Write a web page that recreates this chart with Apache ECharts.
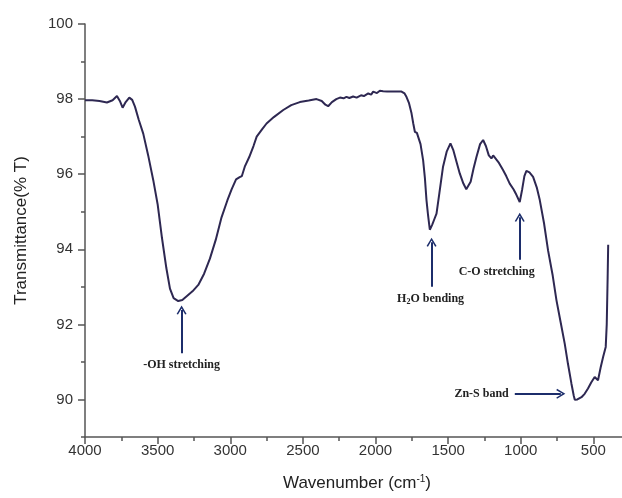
<!DOCTYPE html>
<html>
<head>
<meta charset="utf-8">
<script src="https://cdn.jsdelivr.net/npm/echarts@6/dist/echarts.min.js"></script>
<style>
  html, body { margin: 0; padding: 0; background: #fff; }
  #chart { width: 622px; height: 498px; }
</style>
</head>
<body>
<div id="chart"></div>
<script>
// wavenumber (cm-1) and transmittance (%T)
const wavenumber = [
  4000, 3950, 3900, 3849, 3810, 3780, 3760, 3741, 3720, 3695, 3675, 3656, 3630, 3599,
  3565, 3530, 3500, 3470, 3440, 3415, 3390, 3358, 3330, 3300, 3260, 3220, 3180, 3140,
  3100, 3060, 3020, 2990, 2960, 2935, 2920, 2900, 2870, 2840, 2818, 2780, 2750, 2700,
  2635, 2580, 2521, 2460, 2406, 2370, 2345, 2326, 2300, 2270, 2245, 2220, 2200, 2180,
  2154, 2130, 2100, 2080, 2050, 2030, 2016, 1990, 1970, 1947, 1920, 1880, 1850, 1821,
  1800, 1787, 1770, 1752, 1740, 1729, 1715, 1707, 1690, 1672, 1660, 1649, 1638, 1626,
  1610, 1595, 1580, 1560, 1535, 1510, 1484, 1465, 1440, 1420, 1395, 1375, 1362, 1345,
  1325, 1305, 1280, 1259, 1240, 1220, 1202, 1190, 1179, 1150, 1122, 1100, 1076, 1050,
  1030, 1007, 990, 975, 961, 940, 915, 890, 869, 840, 812, 780, 754, 725, 697, 675,
  651, 635, 628, 610, 582, 560, 537, 515, 491, 468, 450, 433, 415, 408, 402, 398
];
const transmittance = [
  97.97, 97.97, 97.95, 97.91, 97.97, 98.08, 97.95, 97.77, 97.92, 98.04, 97.98, 97.8, 97.45, 97.08,
  96.5, 95.84, 95.2, 94.3, 93.5, 92.95, 92.7, 92.62, 92.65, 92.75, 92.88, 93.05, 93.35, 93.75,
  94.25, 94.85, 95.3, 95.6, 95.86, 95.92, 95.95, 96.2, 96.45, 96.75, 97.0, 97.2, 97.35, 97.52,
  97.71, 97.84, 97.92, 97.96, 98.0, 97.95, 97.85, 97.81, 97.92, 98.0, 98.04, 98.02, 98.06, 98.03,
  98.07, 98.04, 98.1, 98.08, 98.15, 98.12, 98.2, 98.16, 98.22, 98.21, 98.2, 98.2, 98.2, 98.2,
  98.15, 98.06, 97.9, 97.62, 97.35, 97.13, 97.1, 97.08, 96.8, 96.37, 95.9, 95.31, 94.9, 94.52,
  94.65, 94.8, 94.95, 95.5, 96.2, 96.6, 96.82, 96.65, 96.3, 96.02, 95.75, 95.6, 95.57, 95.8,
  96.15, 96.46, 96.8, 96.91, 96.75, 96.5, 96.42, 96.5, 96.48, 96.3, 96.11, 95.95, 95.75, 95.6,
  95.45, 95.26, 95.6, 95.95, 96.09, 96.05, 95.93, 95.65, 95.31, 94.7, 93.97, 93.3, 92.64, 92.05, 91.48, 90.95,
  90.42, 90.1, 89.99, 90.0, 90.06, 90.15, 90.29, 90.45, 90.6, 90.51, 90.85, 91.13, 91.4, 92.0, 93.2, 94.12
];
const yLabels = [90, 92, 94, 96, 98, 100];

// annotation arrows: [label, start, end, label shift left in px]
const notes = [
  ["-OH stretching", [3335, 91.23], [3335, 92.38], 0],
  ["H{sub|2}O bending", [1614, 93.0], [1614, 94.19], 2],
  ["C-O stretching", [1007, 93.72], [1007, 94.85], 46],
  ["Zn-S band", [1041, 90.15], [724, 90.15], 0]
];

const chart = echarts.init(document.getElementById("chart"));
const axisFont = { fontFamily: "Liberation Sans", fontSize: 15, color: "#333" };
const tickStyle = { color: "#555", width: 1.5 };
const arrowHead = "path://M0,10 L5,0 L10,10 L8.6,10.8 L5,3.4 L1.4,10.8 Z";
// grid runs on past the right edge so that the axis ends cut off like the original
const gridBox = { left: 85, top: 24, bottom: 61, right: -44, outerBoundsMode: "none", containLabel: false };

chart.setOption({
  animation: false,
  grid: [gridBox, Object.assign({}, gridBox)],
  xAxis: [
    {
      type: "value",
      gridIndex: 0,
      inverse: true,
      min: 0,
      max: 4000,
      interval: 500,
      name: "Wavenumber (cm{sup|-1})",
      nameLocation: "middle",
      nameGap: 37,
      nameTextStyle: {
        fontFamily: "Liberation Sans",
        fontSize: 17,
        color: "#222",
        padding: [0, 37, 0, 0],
        rich: {
          sup: { fontSize: 10, fontFamily: "Liberation Sans", color: "#222", padding: [0, 0, 9, 0] }
        }
      },
      axisLine: { onZero: false, lineStyle: tickStyle },
      axisTick: { length: 7, lineStyle: tickStyle },
      minorTick: { show: true, splitNumber: 2, length: 4, lineStyle: tickStyle },
      axisLabel: Object.assign({ margin: 6, showMinLabel: false, formatter: (v) => String(v) }, axisFont),
      splitLine: { show: false },
      minorSplitLine: { show: false }
    },
    {
      type: "value",
      gridIndex: 1,
      inverse: true,
      min: 0,
      max: 4000,
      interval: 500,
      show: false
    }
  ],
  yAxis: [
    {
      type: "value",
      gridIndex: 0,
      position: "left",
      min: 89,
      max: 100,
      interval: 1,
      name: "Transmittance(% T)",
      nameLocation: "middle",
      nameRotate: 90,
      nameGap: 55,
      nameTextStyle: { fontFamily: "Liberation Sans", fontSize: 17, color: "#222" },
      axisLine: { show: true, onZero: false, lineStyle: tickStyle },
      axisTick: { show: true, length: 4, lineStyle: tickStyle },
      axisLabel: Object.assign({
        margin: 12,
        formatter: (v) => (yLabels.indexOf(v) >= 0 ? String(v) : "")
      }, axisFont),
      splitLine: { show: false }
    },
    {
      // longer ticks at the labelled values
      type: "value",
      gridIndex: 1,
      position: "left",
      min: 89,
      max: 100,
      interval: 1,
      axisLine: { show: false, onZero: false },
      axisTick: { show: true, length: 7, customValues: yLabels, lineStyle: tickStyle },
      axisLabel: { show: false },
      splitLine: { show: false }
    }
  ],
  series: [
    {
      type: "line",
      xAxisIndex: 0,
      yAxisIndex: 0,
      data: wavenumber.map((w, i) => [w, transmittance[i]]),
      showSymbol: false,
      lineStyle: { color: "#2e2852", width: 2 },
      markLine: {
        silent: true,
        symbol: ["none", arrowHead],
        symbolSize: [10, 9],
        lineStyle: { color: "#1c2d6b", width: 2, type: "solid" },
        label: {
          show: true,
          position: "start",
          distance: 6,
          fontFamily: "Liberation Serif",
          fontWeight: "bold",
          fontSize: 12,
          color: "#222",
          rich: {
            sub: { fontFamily: "Liberation Serif", fontWeight: "bold", fontSize: 8, color: "#222", padding: [5, 0, 0, 0] }
          }
        },
        data: notes.map((n) => [
          { coord: n[1], label: { formatter: n[0], padding: [0, n[3], 0, 0] } },
          { coord: n[2] }
        ])
      }
    }
  ]
});
</script>
</body>
</html>
